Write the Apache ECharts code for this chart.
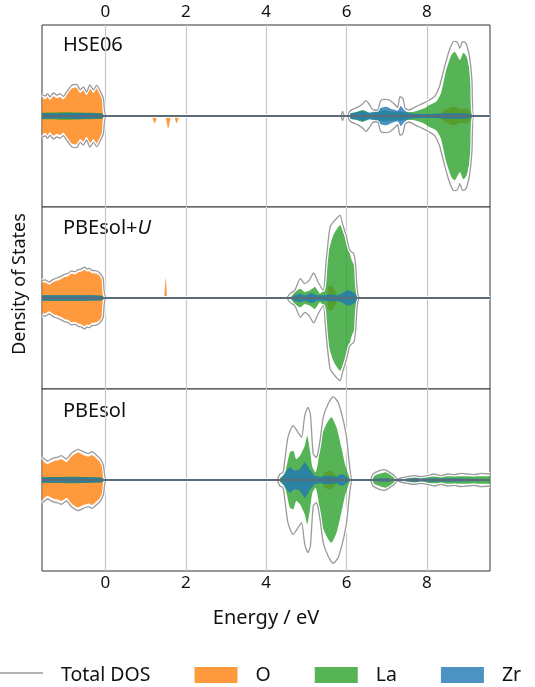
<!DOCTYPE html>
<html>
<head>
<meta charset="utf-8">
<script src="https://cdn.jsdelivr.net/npm/echarts@6/dist/echarts.min.js"></script>
<style>
  html, body { margin: 0; padding: 0; background: #fff; }
  #chart { width: 535px; height: 687px; }
</style>
</head>
<body>
<div id="chart"></div>
<script>
// energy ticks on the x axes
const energyTicks = [0, 2, 4, 6, 8]
const panelNames = ['HSE06', 'PBEsol+U', 'PBEsol']

// ---- HSE06 ----  [energy, DOS]  (mirrored about zero when drawn)
const hseTotal = [[-1.58, 2.35], [-1.5, 2.2], [-1.44, 2.45], [-1.38, 2.1], [-1.30, 2.53], [-1.21, 2.31], [-1.13, 2.45], [-1.05, 2.16], [-0.97, 2.64], [-0.84, 3.37], [-0.72, 3.48], [-0.63, 2.89], [-0.55, 3.19], [-0.47, 2.64], [-0.39, 3.41], [-0.30, 2.89], [-0.22, 3.37], [-0.14, 2.82], [-0.05, 1.9], [0.03, 0],
  [5.85, 0], [5.9, 0.5], [5.95, 0], [6.02, 0], [6.07, 0.48], [6.15, 0.73], [6.27, 0.95], [6.40, 1.32], [6.48, 1.69], [6.56, 1.32], [6.64, 0.75], [6.69, 0.66], [6.77, 0.66], [6.85, 1.69], [6.94, 1.83], [7.06, 1.76], [7.19, 1.32], [7.27, 0.95], [7.33, 2.12], [7.40, 1.94], [7.46, 0.84], [7.56, 0.66], [7.69, 0.95], [7.81, 1.21], [7.94, 1.47], [8.06, 1.76], [8.19, 2.12], [8.31, 3.22], [8.44, 5.42], [8.56, 7.25], [8.66, 8.17], [8.72, 8.2], [8.77, 7.99], [8.82, 7.44], [8.89, 8.17], [8.95, 8.1], [8.99, 7.8], [9.06, 6.52], [9.12, 3.96], [9.17, 0], [9.57, 0]]
const hseO = [[-1.58, 2.0], [-1.5, 1.85], [-1.44, 2.1], [-1.38, 1.75], [-1.30, 2.18], [-1.21, 1.96], [-1.13, 2.1], [-1.05, 1.81], [-0.97, 2.29], [-0.84, 3.02], [-0.72, 3.13], [-0.63, 2.54], [-0.55, 2.84], [-0.47, 2.29], [-0.39, 3.06], [-0.30, 2.54], [-0.22, 3.02], [-0.14, 2.47], [-0.05, 1.6], [0.02, 0],
  [8.25, 0], [8.4, 0.5], [8.55, 0.9], [8.65, 1.05], [8.75, 0.9], [8.85, 0.75], [8.95, 0.85], [9.05, 0.6], [9.15, 0]]
const hseGapO = [[1.15, 0], [1.23, 0.8], [1.3, 0], [1.48, 0], [1.56, 1.4], [1.64, 0], [1.7, 0], [1.77, 0.8], [1.84, 0]]
const hseLa = [[-1.58, 0.35], [-1.0, 0.4], [-0.5, 0.35], [-0.1, 0.3], [0.02, 0],
  [5.87, 0], [5.9, 0.3], [5.93, 0], [6.0, 0], [6.1, 0.3], [6.25, 0.45], [6.4, 0.66], [6.5, 0.5], [6.6, 0.3], [6.8, 0.5], [6.95, 0.6], [7.1, 0.5], [7.3, 0.5], [7.45, 0.4], [7.6, 0.45], [7.69, 0.48], [7.94, 0.84], [8.06, 1.2], [8.23, 1.57], [8.35, 2.49], [8.48, 5.05], [8.61, 6.7], [8.69, 7.07], [8.77, 6.52], [8.82, 6.15], [8.91, 6.96], [8.99, 6.52], [9.06, 5.05], [9.12, 2.12], [9.16, 0]]
const hseZr = [[-1.58, 0.3], [-1.2, 0.28], [-0.8, 0.32], [-0.4, 0.3], [-0.1, 0.25], [0.02, 0],
  [5.87, 0], [5.9, 0.4], [5.93, 0], [6.02, 0], [6.05, 0.3], [6.2, 0.37], [6.4, 0.55], [6.56, 0.37], [6.68, 0.5], [6.81, 0.84], [6.98, 1.03], [7.14, 0.73], [7.27, 0.58], [7.35, 1.1], [7.44, 0.66], [7.56, 0.3], [8.06, 0.22], [8.5, 0.3], [8.9, 0.3], [9.1, 0.2], [9.17, 0]]

// ---- PBEsol+U ----
const pbeuTotal = [[-1.58, 1.94], [-1.5, 2.0], [-1.40, 1.76], [-1.3, 2.05], [-1.19, 2.23], [-1.1, 2.4], [-1.02, 2.6], [-0.93, 2.7], [-0.85, 2.97], [-0.76, 2.9], [-0.68, 3.11], [-0.6, 3.2], [-0.51, 3.4], [-0.47, 3.2], [-0.4, 3.25], [-0.34, 3.04], [-0.25, 3.0], [-0.17, 2.86], [-0.06, 2.2], [0.03, 0],
  [4.5, 0], [4.59, 0.48], [4.71, 0.84], [4.85, 2.12], [4.96, 1.58], [5.07, 1.94], [5.18, 2.75], [5.29, 1.76], [5.42, 0.84], [5.49, 3.96], [5.59, 7.8], [5.71, 8.54], [5.84, 9.08], [5.9, 8.17], [6.0, 6.7], [6.08, 5.24], [6.18, 4.87], [6.23, 3.4], [6.26, 1.2], [6.33, 0], [9.57, 0]]
const pbeuO = [[-1.58, 1.64], [-1.5, 1.7], [-1.40, 1.46], [-1.3, 1.75], [-1.19, 1.93], [-1.1, 2.1], [-1.02, 2.3], [-0.93, 2.4], [-0.85, 2.67], [-0.76, 2.6], [-0.68, 2.81], [-0.6, 2.9], [-0.51, 3.1], [-0.47, 2.9], [-0.4, 2.95], [-0.34, 2.74], [-0.25, 2.7], [-0.17, 2.56], [-0.06, 1.9], [0.02, 0],
  [5.5, 0], [5.54, 1.2], [5.62, 1.4], [5.71, 0.84], [5.76, 0.3], [5.8, 0]]
const pbeuSpikeO = [[1.46, 0], [1.5, 2.2], [1.53, 0]]
const pbeuLa = [[-1.58, 0.3], [-0.8, 0.3], [-0.1, 0.25], [0.02, 0],
  [4.55, 0], [4.63, 0.18], [4.71, 0.66], [4.85, 1.03], [4.96, 0.66], [5.09, 0.84], [5.21, 1.2], [5.34, 0.48], [5.46, 1.2], [5.54, 4.87], [5.67, 6.9], [5.84, 8.0], [5.93, 7.07], [6.04, 5.6], [6.13, 4.14], [6.23, 3.22], [6.28, 1.2], [6.33, 0],
  [6.9, 0], [6.95, 0.15], [7.0, 0], [7.1, 0], [7.15, 0.2], [7.2, 0]]
const pbeuZr = [[-1.58, 0.3], [-0.8, 0.3], [-0.1, 0.25], [0.02, 0],
  [4.58, 0], [4.63, 0.1], [4.7, 0.3], [4.84, 0.48], [4.96, 0.3], [5.12, 0.55], [5.29, 0.3], [5.46, 0.3], [5.62, 0.4], [5.75, 0.3], [5.87, 0.48], [6.04, 0.84], [6.16, 0.66], [6.26, 0.3], [6.33, 0]]

// ---- PBEsol ----
const pbeTotal = [[-1.58, 2.56], [-1.44, 2.09], [-1.35, 2.3], [-1.27, 2.45], [-1.19, 2.5], [-1.10, 2.67], [-0.97, 2.31], [-0.85, 2.93], [-0.76, 3.2], [-0.68, 3.37], [-0.55, 3.11], [-0.42, 2.93], [-0.34, 3.11], [-0.21, 2.67], [-0.13, 2.31], [-0.05, 1.6], [0.03, 0],
  [4.26, 0], [4.34, 0.66], [4.42, 0.84], [4.54, 4.69], [4.67, 5.97], [4.79, 5.24], [4.88, 4.69], [4.96, 7.07], [5.04, 7.99], [5.10, 7.25], [5.17, 2.86], [5.25, 2.49], [5.29, 3.04], [5.34, 4.32], [5.42, 6.89], [5.54, 8.35], [5.67, 9.16], [5.79, 8.53], [5.90, 6.89], [6.0, 4.69], [6.08, 1.39], [6.15, 0],
  [6.58, 0], [6.66, 0.66], [6.82, 1.03], [6.94, 1.14], [7.07, 0.84], [7.19, 0.48], [7.27, 0.1], [7.35, 0.22], [7.52, 0.37], [7.69, 0.48], [7.85, 0.37], [8.01, 0.48], [8.18, 0.66], [8.35, 0.48], [8.52, 0.66], [8.68, 0.59], [8.85, 0.73], [9.01, 0.66], [9.18, 0.59], [9.34, 0.73], [9.57, 0.66]]
const pbeO = [[-1.58, 2.21], [-1.44, 1.74], [-1.35, 1.95], [-1.27, 2.1], [-1.19, 2.15], [-1.10, 2.32], [-0.97, 1.96], [-0.85, 2.58], [-0.76, 2.85], [-0.68, 3.02], [-0.55, 2.76], [-0.42, 2.58], [-0.34, 2.76], [-0.21, 2.32], [-0.13, 1.96], [-0.05, 1.3], [0.02, 0],
  [5.34, 0], [5.46, 0.84], [5.58, 1.03], [5.71, 0.66], [5.8, 0]]
const pbeLa = [[-1.58, 0.3], [-0.8, 0.35], [-0.1, 0.25], [0.02, 0],
  [4.28, 0], [4.34, 0.22], [4.46, 0.66], [4.59, 3.04], [4.67, 3.22], [4.75, 2.31], [4.84, 2.67], [4.96, 3.77], [5.02, 4.87], [5.09, 3.22], [5.15, 1.39], [5.23, 0.84], [5.29, 1.94], [5.37, 4.69], [5.50, 6.15], [5.62, 6.89], [5.75, 5.79], [5.87, 3.59], [5.96, 1.76], [6.04, 0.66], [6.12, 0],
  [6.6, 0], [6.62, 0.2], [6.70, 0.48], [6.86, 0.73], [6.98, 0.84], [7.11, 0.59], [7.21, 0.22], [7.27, 0], [7.35, 0.15], [7.5, 0.3], [8.0, 0.35], [8.5, 0.4], [9.0, 0.4], [9.57, 0.4]]
const pbeZr = [[-1.58, 0.3], [-0.8, 0.3], [-0.1, 0.25], [0.02, 0],
  [4.26, 0], [4.38, 0.22], [4.5, 1.03], [4.59, 1.39], [4.71, 1.03], [4.84, 1.2], [4.96, 1.94], [5.09, 1.1], [5.21, 0.48], [5.37, 0.37], [5.54, 0.48], [5.75, 0.37], [5.87, 0.66], [6.04, 0.22], [6.1, 0],
  [6.6, 0], [6.65, 0.15], [7.0, 0.2], [7.25, 0], [7.35, 0.1], [7.5, 0.2], [9.57, 0.2]]

const panels = [
  { total: hseTotal, O: hseO, La: hseLa, Zr: hseZr, extraO: hseGapO, extraSide: -1 },
  { total: pbeuTotal, O: pbeuO, La: pbeuLa, Zr: pbeuZr, extraO: pbeuSpikeO, extraSide: 1 },
  { total: pbeTotal, O: pbeO, La: pbeLa, Zr: pbeZr, extraO: null, extraSide: 0 }
]

const cO = 'rgba(255,127,14,0.8)'
const cLa = 'rgba(44,160,44,0.8)'
const cZr = 'rgba(31,119,180,0.8)'
const cTotal = '#9a9a9a'
const font = 'Noto Sans'

const chart = echarts.init(document.getElementById('chart'))

const gridTops = [25, 207, 389]
const grids = gridTops.map(t => ({
    left: 42, width: 448, top: t, height: 182,
    show: true, borderColor: '#333', borderWidth: 1, backgroundColor: '#fff'
}))

const xAxes = gridTops.map((t, i) => ({
    type: 'value', gridIndex: i, min: -1.58, max: 9.57,
    position: i === 0 ? 'top' : 'bottom',
    axisLine: { show: false },
    axisTick: { show: false, customValues: energyTicks },
    axisLabel: { show: i !== 1, customValues: energyTicks, fontSize: 17, color: '#111', margin: 4, fontFamily: font },
    splitLine: { show: true, lineStyle: { color: '#c8c8c8', width: 1.2 } },
    name: i === 2 ? 'Energy / eV' : '',
    nameLocation: 'middle', nameGap: 37,
    nameTextStyle: { fontSize: 20, color: '#111', fontFamily: font }
}))

const yAxes = gridTops.map((t, i) => ({
    type: 'value', gridIndex: i, min: -10, max: 10, show: false
}))

// mirrored filled band, drawn as two area series (upper and lower)
const flip = d => d.map(p => [p[0], -p[1]])
function band(name, data, color, idx, sides) {
    return sides.map(s => ({
        name: name, type: 'line', xAxisIndex: idx, yAxisIndex: idx,
        data: s > 0 ? data : flip(data),
        symbol: 'none', smooth: 0.2, color: color,
        lineStyle: { width: 0, opacity: 0 },
        areaStyle: { color: color, opacity: 1 },
        silent: true
    }))
}
function outline(name, data, color, width, idx, zeroLine) {
    return [1, -1].map((s, k) => {
        let ser = {
            name: name, type: 'line', xAxisIndex: idx, yAxisIndex: idx,
            data: s > 0 ? data : flip(data),
            symbol: 'none', smooth: 0.2, color: color,
            lineStyle: { width: width, color: color },
            silent: true
        }
        if (zeroLine && k === 0) {
            ser.markLine = {
                symbol: ['none', 'none'], silent: true, label: { show: false },
                lineStyle: { color: '#5b6c78', width: 2, type: 'solid' },
                data: [{ yAxis: 0 }]
            }
        }
        return ser
    })
}

let series = []
panels.forEach((p, i) => {
    series = series.concat(band('O', p.O, cO, i, [1, -1]))
    if (p.extraO) series = series.concat(band('O', p.extraO, cO, i, [p.extraSide]))
    series = series.concat(band('La', p.La, cLa, i, [1, -1]))
    series = series.concat(band('Zr', p.Zr, cZr, i, [1, -1]))
    series = series.concat(outline('halo', p.total, '#ffffff', 3.5, i, false))
    series = series.concat(outline('Total DOS', p.total, cTotal, 1.3, i, true))
})

const labelY = [45, 228, 411]
const graphics = panelNames.map((n, i) => ({
    type: 'text', x: 63, y: labelY[i],
    style: n === 'PBEsol+U'
        ? { text: '{a|PBEsol+}{b|U}', rich: { a: { fontSize: 20, fontFamily: font, fill: '#111' }, b: { fontSize: 20, fontFamily: font, fontStyle: 'italic', fill: '#111' } }, verticalAlign: 'middle' }
        : { text: n, fontSize: 20, fontFamily: font, fill: '#111', verticalAlign: 'middle' }
}))
graphics.push({
    type: 'text', x: 20, y: 284, rotation: Math.PI / 2,
    style: { text: 'Density of States', fontSize: 18, fontFamily: font, fill: '#111', align: 'center', verticalAlign: 'middle' }
})
// line swatch for the "Total DOS" legend entry
graphics.push({
    type: 'line', shape: { x1: 0, y1: 673, x2: 43, y2: 673 },
    style: { stroke: cTotal, lineWidth: 1.3 }
})

const option = {
    animation: false,
    backgroundColor: '#fff',
    grid: grids,
    xAxis: xAxes,
    yAxis: yAxes,
    legend: {
        left: 0, top: 665, padding: 0, itemGap: 44,
        itemWidth: 43, itemHeight: 16, selectedMode: false,
        textStyle: { fontSize: 19.5, color: '#111', fontFamily: font, padding: [0, 0, 0, 13] },
        data: [
            { name: 'Total DOS', icon: 'none' },
            { name: 'O', icon: 'rect' },
            { name: 'La', icon: 'rect' },
            { name: 'Zr', icon: 'rect' }
        ]
    },
    graphic: graphics,
    series: series
}
chart.setOption(option)
</script>
</body>
</html>
